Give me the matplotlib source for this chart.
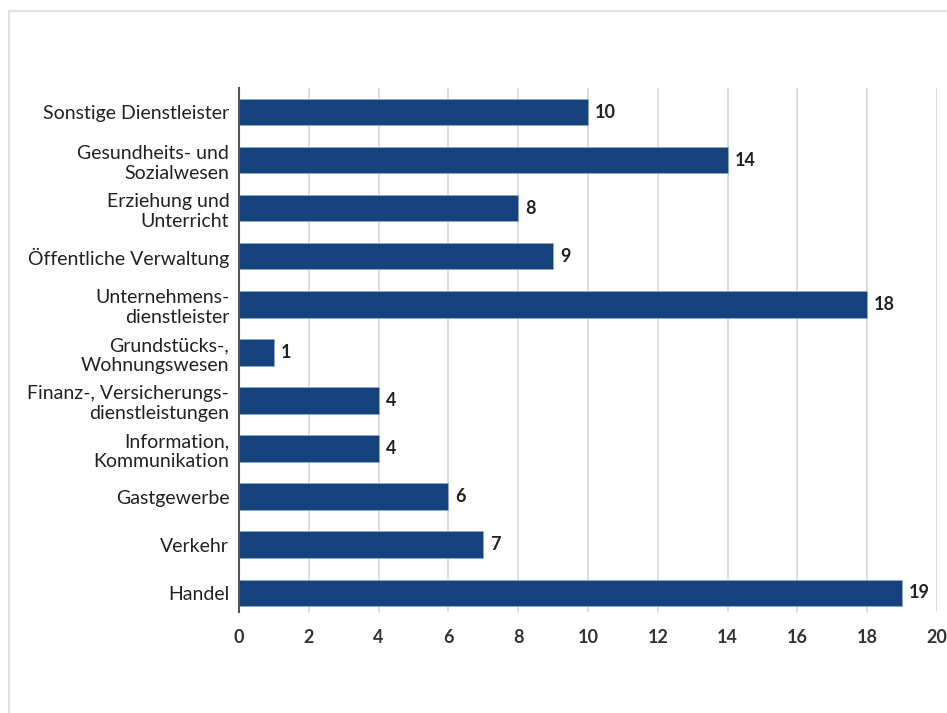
import matplotlib
matplotlib.use("Agg")
import matplotlib.pyplot as plt
from matplotlib.lines import Line2D

categories = [
    "Handel", "Verkehr", "Gastgewerbe", "Information,\nKommunikation",
    "Finanz-, Versicherungs-\ndienstleistungen", "Grundstücks-,\nWohnungswesen",
    "Unternehmens-\ndienstleister", "Öffentliche Verwaltung",
    "Erziehung und\nUnterricht", "Gesundheits- und\nSozialwesen",
    "Sonstige Dienstleister",
]
values = [19, 7, 6, 4, 4, 1, 18, 9, 8, 14, 10]
xticks = [0, 2, 4, 6, 8, 10, 12, 14, 16, 18, 20]

plt.rcParams['font.family'] = ['Lato', 'DejaVu Sans']

fig = plt.figure(figsize=(9.47, 7.13), dpi=100)
ax = fig.add_axes([0.2524, 0.1417, 0.9894 - 0.2524, 0.8766 - 0.1417])

pos = list(range(len(categories)))
ax.barh(pos, values, height=0.55, color="#15427c", edgecolor="#8fa6c6", linewidth=0.6, zorder=3)
for p, v in zip(pos, values):
    ax.text(v + 0.2, p, str(v), va="center", ha="left", fontsize=13,
            fontweight="bold", color="#222222")

ax.set_xlim(0, 20)
ax.set_ylim(-0.4, 10.5)
ax.set_yticks(pos)
ax.set_yticklabels(categories, fontsize=14, color="#222222", linespacing=1.22)
ax.set_xticks(xticks)
ax.set_xticklabels([str(t) for t in xticks], fontsize=13, fontweight="bold", color="#333333")
ax.tick_params(axis="y", length=0, pad=7)
ax.tick_params(axis="x", length=0, pad=12)
ax.grid(axis="x", color="#d3d8e0", linewidth=1.2, zorder=0)
for s in ["top", "right", "bottom"]:
    ax.spines[s].set_visible(False)
ax.spines["left"].set_color("#555555")
ax.spines["left"].set_linewidth(1.5)
ax.spines["left"].set_zorder(4)

# outer frame
fx = 9 / 947
fy = 1 - 11 / 713
fig.add_artist(Line2D([fx, fx], [0, fy], transform=fig.transFigure, color="#e2e2e2", linewidth=1.5))
fig.add_artist(Line2D([fx, 1], [fy, fy], transform=fig.transFigure, color="#e2e2e2", linewidth=1.5))

fig.savefig("out.png", dpi=100)
